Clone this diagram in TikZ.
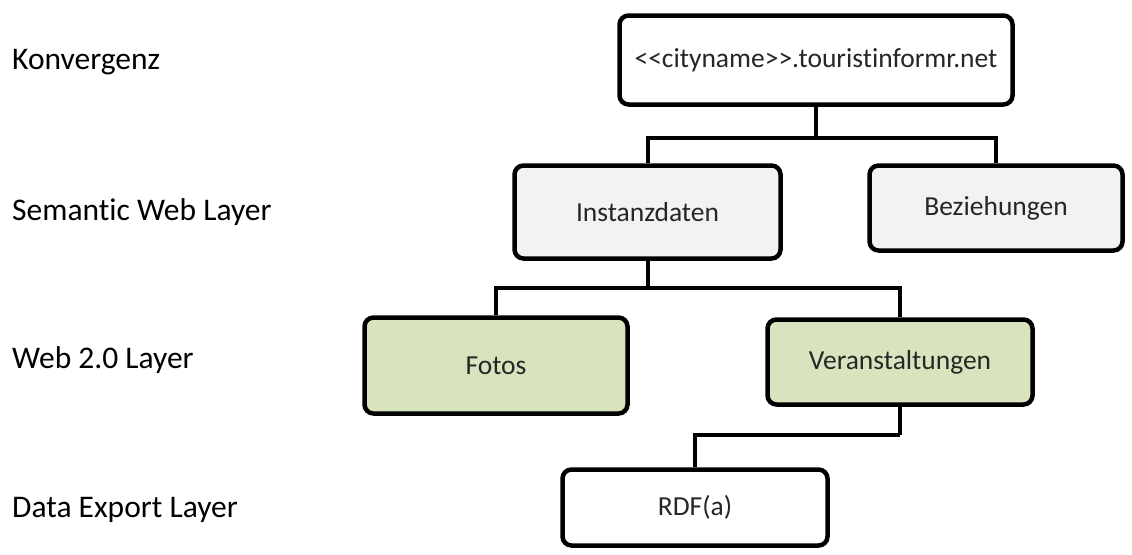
\documentclass[tikz,border=0pt]{standalone}
\usepackage{fontspec}
\setmainfont{Carlito}[Ligatures=NoCommon]
\usepackage{tikz}
\definecolor{boxgrey}{HTML}{F2F2F2}
\definecolor{boxgreen}{HTML}{D7E4BD}
\definecolor{txtgrey}{HTML}{262626}

\begin{document}
\begin{tikzpicture}[
x=1pt, y=-1pt,
box/.style={draw, line width=4.5pt, rounded corners=9pt, align=center, font=\fontsize{27.5}{32}\selectfont, text=txtgrey, inner sep=0pt},
layer/.style={anchor=west, font=\fontsize{31.5}{36}\selectfont, inner sep=0pt},
conn/.style={line width=4pt}
]
\useasboundingbox (0,0) rectangle (1132,554);
% layer labels
\node[layer] (lkonv) at (12,62) {Konvergenz};
\node[layer] (lsem) at (12,212) {Semantic Web Layer};
\node[layer] (lweb) at (12,360) {Web 2.0 Layer};
\node[layer] (lexp) at (12,510) {Data Export Layer};
% boxes
\node[box, fill=white, minimum width=393pt, minimum height=89pt] (city) at (816,60) {<{}<cityname>{}>.touristinformr.net};
\node[box, fill=boxgrey, minimum width=266pt, minimum height=93pt] (inst) at (647.5,212) {Instanzdaten};
\node[box, fill=boxgrey, minimum width=253pt, minimum height=85pt] (bez) at (996,208) {Beziehungen};
\node[box, fill=boxgreen, minimum width=263pt, minimum height=96pt] (fotos) at (496,365.5) {Fotos};
\node[box, fill=boxgreen, minimum width=265pt, minimum height=85pt] (veran) at (900,362) {Veranstaltungen};
\node[box, fill=white, minimum width=265pt, minimum height=76pt] (rdf) at (695,507.5) {RDF(a)};
% connectors
\draw[conn] (city.south) -- (816,138) coordinate (j1);
\draw[conn] (inst.north) |- (j1) -| (bez.north);
\draw[conn] (inst.south) -- (647.5,288) coordinate (j2);
\draw[conn] (fotos.north) |- (j2) -| (veran.north);
\draw[conn] (veran.south) -- (900,435) coordinate (j3);
\draw[conn] (rdf.north) |- (j3);
\end{tikzpicture}
\end{document}
